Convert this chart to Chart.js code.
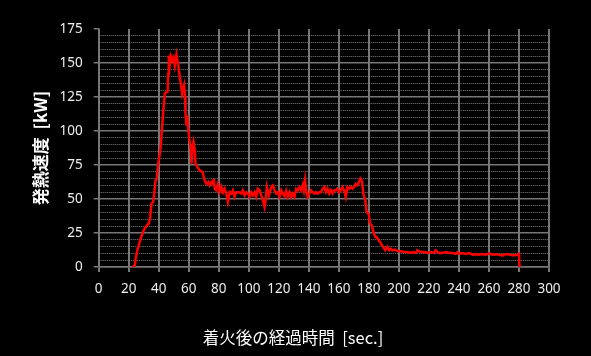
<!DOCTYPE html>
<html lang="ja">
<head>
    <meta charset="utf-8">
    <title>発熱速度</title>
    <script src="https://cdn.jsdelivr.net/npm/chart.js"></script>
    <style>
        body {
            background: #000;
            margin: 0;
            padding: 0;
        }
        #wrap {
            width: 591px;
            height: 356px;
            background: #000;
        }
    </style>
</head>
<body>
    <div id="wrap"><canvas id="hrrChart" width="591" height="356"></canvas></div>

    <script>
        // 経過時間 [sec.]
        const times = [
            22.3, 24, 24.6, 26, 28, 30, 32, 33.4, 34.3, 35.2, 36.3, 37, 37.9, 38.7, 39.6, 40.7, 41.4, 43, 44, 45.2,
            45.9, 46.3, 46.7, 47.4, 48, 49, 49.8, 50.7, 51.8, 52.4, 52.9, 54, 55.1, 55.6, 56.9, 57.5, 57.8, 58.5, 59.1, 59.5,
            60.2, 61.3, 61.8, 62.5, 63.2, 64, 64.5, 65.1, 66, 67.3, 69.1, 70.6, 71.8, 73, 74, 75, 76.3, 76.6, 77.3, 78.3,
            79.4, 80.6, 81.7, 82.8, 83.9, 85, 86.1, 87.2, 88.3, 89.4, 90.5, 91.6, 93.4, 95, 96, 97.2, 98.3, 99.4, 100.5, 101.6,
            102.7, 103.8, 104.9, 106, 107.2, 108.3, 109.4, 110.5, 111.2, 112, 113.4, 115, 116, 117.2, 118.3, 119.4, 120.5, 121.6, 122.7, 123.8,
            124.9, 126, 127.2, 128.3, 129.4, 130.5, 131.6, 132.7, 133.8, 134.9, 136, 136.7, 137.5, 138.2, 139.3, 140.4, 141.5, 142.6, 143.7, 144.8,
            145.9, 147, 148, 149.2, 150.3, 151.4, 152.5, 153.6, 154.7, 155.8, 156.9, 158, 159, 160.2, 161.3, 162.4, 163.5, 164.6, 165.7, 166.8,
            167.9, 169, 170.1, 171.2, 172.3, 173.4, 174.3, 175.4, 176.3, 177.6, 178.5, 179.8, 180.7, 182, 183, 184.3, 185.2, 186.5, 187.4, 188.7,
            189.6, 190.9, 192.4, 193.5, 194.6, 195.7, 197.5, 199, 201.3, 203.5, 205.7, 207.9, 209, 211.2, 212.3, 214.5, 216.8, 219, 221.2, 223.4,
            224.5, 226.7, 229, 231.3, 233.5, 235.7, 237.9, 239, 240.1, 242.3, 244.5, 246.8, 249, 251, 253.4, 255.6, 257.9, 260.1, 262.3, 264.5,
            266.8, 269, 271.2, 273.4, 275.6, 277.8, 280, 280.3
        ];
        // 発熱速度 [kW]
        const hrr = [
            0, 1, 6, 13.5, 21, 27, 30.6, 32, 37, 46.6, 48, 54, 63.8, 65, 76, 83, 90, 114, 127.5, 128.7,
            129, 142, 155.6, 149.5, 155, 152, 154, 148, 156, 152, 149.5, 139.7, 132, 127.5, 133.6, 126, 112.8, 104, 111.5, 102.7,
            95.6, 88, 76, 88, 92, 86, 76, 74.8, 73, 71, 70, 63.7, 61, 62.5, 60, 62.5, 61, 65, 57.6, 56.4,
            61, 55, 59, 55, 57.6, 54, 47.8, 55, 54, 56.4, 51.5, 55, 55, 54, 56.4, 52.7, 55, 54, 51.5, 55,
            52.7, 55, 51.5, 57.6, 56.4, 52.7, 49, 44, 49, 58.8, 52.7, 58.8, 60, 56.4, 54, 55, 51.5, 56.4, 54, 52,
            56, 51.5, 55, 51.5, 54, 51.5, 57.6, 56.4, 58.8, 56.4, 60.5, 56.4, 63.7, 56.4, 51.5, 54, 56.4, 55, 54, 55,
            54, 55, 55, 57.6, 58.8, 55, 57.6, 54, 56.4, 54, 56.4, 56.4, 57.6, 55, 56.4, 58.8, 56.4, 51.5, 58.8, 57.6,
            58.8, 57.6, 58.8, 61, 60, 62.5, 65, 63, 54, 49, 40.4, 39.2, 32, 30.6, 25.7, 22, 22, 19.6, 18.4, 16,
            14.7, 12.3, 14.7, 12.3, 13.5, 12.3, 12.8, 11.8, 11.5, 11, 11, 10.3, 11, 10.3, 12.3, 11, 11, 10.3, 11, 10.3,
            12.3, 10.3, 10.3, 11, 10.3, 10.3, 9.6, 11, 9.6, 10.3, 9.6, 10.3, 9.1, 9.3, 9.1, 9.6, 9.1, 10, 9.1, 9.3,
            9.1, 8.3, 9.6, 9.1, 8.6, 8.6, 9.6, 0
        ];
        const xTitle = '着火後の経過時間  [sec.]';
        const yTitle = '発熱速度  [kW]';

        Chart.defaults.font.family = "'Noto Sans', 'Noto Sans CJK JP', sans-serif";
        Chart.defaults.color = '#eeeeee';

        const gridGray = '#777777';

        // 軸タイトル
        const axisTitles = {
            id: 'axisTitles',
            afterDraw(chart) {
                const c = chart.ctx;
                c.save();
                c.fillStyle = '#ffffff';
                c.textAlign = 'center';
                c.textBaseline = 'middle';
                c.font = "16.5px 'Noto Sans CJK JP', sans-serif";
                c.fillText(xTitle, 293, 338);
                c.translate(41, (chart.chartArea.top + chart.chartArea.bottom) / 2);
                c.rotate(-Math.PI / 2);
                c.font = "bold 17px 'Noto Sans CJK JP', sans-serif";
                c.fillText(yTitle, 0, 0);
                c.restore();
            }
        };

        const ctx = document.getElementById('hrrChart').getContext('2d');
        const chart = new Chart(ctx, {
            type: 'line',
            data: {
                datasets: [{
                    data: times.map((t, i) => ({ x: t, y: hrr[i] })),
                    borderColor: '#ff0000',
                    borderWidth: 2.5,
                    pointRadius: 0,
                    tension: 0,
                    fill: false
                }]
            },
            options: {
                responsive: false,
                animation: false,
                layout: { padding: { top: 29, right: 42, bottom: 0, left: 0 } },
                plugins: {
                    legend: { display: false },
                    tooltip: { enabled: false }
                },
                scales: {
                    x: {
                        type: 'linear',
                        min: 0,
                        max: 300,
                        ticks: {
                            stepSize: 20, padding: 9, font: { size: 13.5 }, color: '#eeeeee',
                            maxRotation: 0, minRotation: 0, autoSkip: false
                        },
                        grid: { color: gridGray, lineWidth: 2, tickLength: 5, tickColor: gridGray },
                        border: { color: gridGray, width: 1.5 },
                        afterFit: s => { s.height = 89; }
                    },
                    y: {
                        min: 0,
                        max: 175,
                        ticks: { stepSize: 25, padding: 11, font: { size: 13.5 }, color: '#eeeeee' },
                        grid: {
                            color: c => c.tick && c.tick.value === 175 ? 'transparent' : gridGray,
                            tickColor: gridGray,
                            lineWidth: 1.5,
                            tickLength: 5
                        },
                        border: { color: gridGray, width: 1.5 },
                        afterFit: s => { s.width = 98.7; }
                    },
                    yMinor: {
                        position: 'right',
                        min: 0,
                        max: 175,
                        ticks: { stepSize: 5, display: false },
                        grid: {
                            color: c => c.tick && c.tick.value % 25 === 0 ? 'transparent' : '#808080',
                            lineWidth: 1,
                            drawTicks: false
                        },
                        border: { display: false, dash: [1, 1] },
                        afterFit: s => { s.width = 0; }
                    }
                }
            },
            plugins: [axisTitles]
        });
    </script>
</body>
</html>
